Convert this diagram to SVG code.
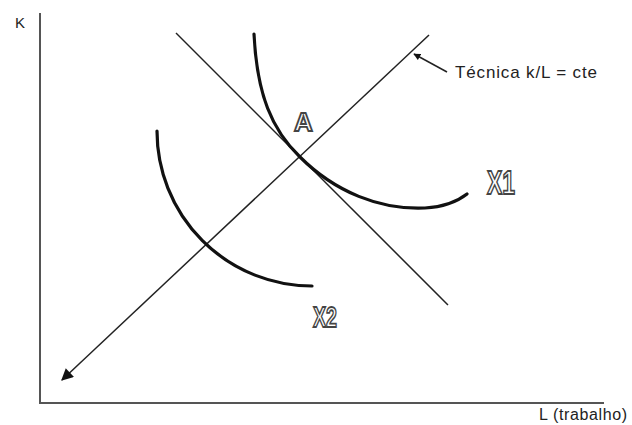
<svg xmlns="http://www.w3.org/2000/svg" width="632" height="425" viewBox="0 0 632 425">
<style>
.lbl{font-family:"Liberation Sans",Arial,sans-serif;fill:#222}
.out{font-family:"Liberation Sans",Arial,sans-serif;font-weight:bold;fill:#fff;stroke:#444;stroke-width:1.8}
.thin{stroke:#222;stroke-width:1.5;fill:none}
.curve{stroke:#111;stroke-width:3.2;fill:none;stroke-linecap:round}
.axis{stroke:#555;stroke-width:2;fill:none}
</style>
<defs>
<marker id="ah" viewBox="0 0 10 10" refX="9" refY="5" markerWidth="8" markerHeight="7" markerUnits="userSpaceOnUse" orient="auto">
<path d="M0,0 L10,5 L0,10 z" fill="#111"/>
</marker>
<marker id="ahBig" viewBox="0 0 10 10" refX="9" refY="5" markerWidth="16" markerHeight="12" markerUnits="userSpaceOnUse" orient="auto">
<path d="M0,0 L10,5 L0,10 z" fill="#111"/>
</marker>
</defs>
<rect width="632" height="425" fill="#fff"/>
<g id="axes">
<path class="axis" d="M40,13 V403 H604"/>
</g>
<g id="connectors">
<line id="technique-ray" class="thin" x1="429" y1="35" x2="62" y2="380" marker-end="url(#ahBig)"/>
<line id="isocost" class="thin" x1="176" y1="33" x2="448" y2="305"/>
<line id="label-pointer" class="thin" x1="447" y1="72" x2="414" y2="54" marker-end="url(#ah)"/>
</g>
<g id="X1">
<path class="curve" d="M254,34 C257,95 272,130 300,157 C335,192 380,210 425,208 C445,207 458,201 467,194"/>
<text class="out" x="487" y="194" font-size="33" textLength="28" lengthAdjust="spacingAndGlyphs">X1</text>
</g>
<g id="X2">
<path class="curve" d="M157,131 A155,155 0 0 0 312,286"/>
<text class="out" x="313" y="327" font-size="30" textLength="24" lengthAdjust="spacingAndGlyphs">X2</text>
</g>
<g id="A">
<text class="out" x="294" y="131" font-size="26">A</text>
</g>
<g id="labels">
<text class="lbl" x="15" y="28" font-size="15">K</text>
<text class="lbl" x="539" y="420" font-size="16" textLength="88">L (trabalho)</text>
<text class="lbl" x="455" y="78" font-size="17" textLength="142">Técnica k/L = cte</text>
</g>
</svg>
